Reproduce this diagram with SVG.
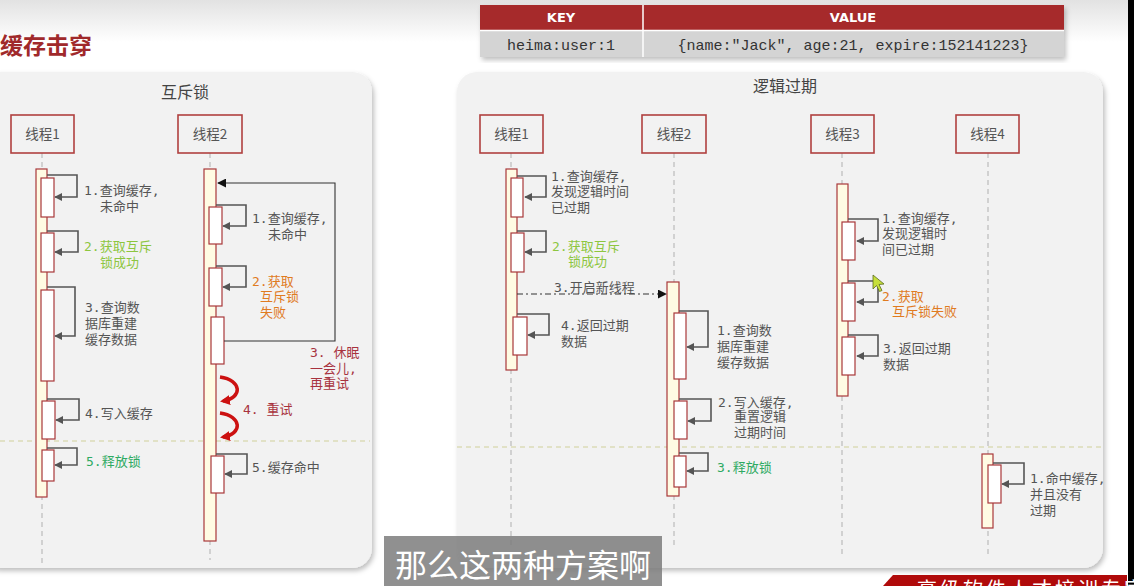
<svg xmlns="http://www.w3.org/2000/svg" width="1134" height="586" viewBox="0 0 1134 586">
<style>
.lbl{font-family:"DejaVu Sans Mono","Noto Sans CJK SC",monospace;font-size:13px;fill:#555}
.g1{fill:#8dc63f}.g2{fill:#2eaa62}.or{fill:#e07b1f}.dr{fill:#a8323e}
.th{fill:#f2f2f2;stroke:#b0403f;stroke-width:1.6}
.tht{font-family:"Noto Sans CJK SC","Noto Sans",sans-serif;font-size:13.5px;fill:#555;text-anchor:middle}
.life{stroke:#bbb;stroke-width:1.2;stroke-dasharray:5 4;fill:none}
.bar{fill:#fffbe3;stroke:#a8383a;stroke-width:1.2}
.ib{fill:#fff;stroke:#a8383a;stroke-width:1.2}
.self{fill:none;stroke:#555;stroke-width:1.6;marker-end:url(#ah)}
.div{stroke:#cfcf9a;stroke-width:1.2;stroke-dasharray:5 4}
.ptitle{font-family:"Noto Sans CJK SC","Noto Sans",sans-serif;font-size:16px;fill:#444;text-anchor:middle}
.redarc{fill:none;stroke:#cc1111;stroke-width:3.5;marker-end:url(#ahr)}
</style>
<defs>
<linearGradient id="topg" x1="0" y1="0" x2="0" y2="1">
<stop offset="0" stop-color="#e2e2e2"/><stop offset="1" stop-color="#ffffff"/>
</linearGradient>
<filter id="sh" x="-5%" y="-5%" width="110%" height="115%">
<feDropShadow dx="2" dy="3" stdDeviation="2.5" flood-color="#000" flood-opacity="0.25"/>
</filter>
<marker id="ah" viewBox="0 0 10 10" refX="9" refY="5" markerWidth="8" markerHeight="8" markerUnits="userSpaceOnUse" orient="auto">
<path d="M0,0 L10,5 L0,10 z" fill="#555"/>
</marker>
<marker id="ahb" viewBox="0 0 10 10" refX="9" refY="5" markerWidth="9" markerHeight="9" markerUnits="userSpaceOnUse" orient="auto">
<path d="M0,0 L10,5 L0,10 z" fill="#111"/>
</marker>
<marker id="ahr" viewBox="0 0 10 10" refX="7" refY="5" markerWidth="10" markerHeight="10" markerUnits="userSpaceOnUse" orient="auto">
<path d="M0,0 L10,5 L0,10 z" fill="#cc1111"/>
</marker>
</defs>

<rect x="0" y="0" width="1134" height="586" fill="#fff"/>
<rect x="0" y="0" width="1134" height="42" fill="url(#topg)"/>
<rect x="1128" y="0" width="6" height="586" fill="#000"/>

<text x="0" y="54" font-family="Noto Sans CJK SC,sans-serif" font-size="23" font-weight="bold" fill="#a0292b">缓存击穿</text>

<!-- table -->
<g id="table">
<rect x="480" y="5" width="584" height="52" fill="#d4d4d4" filter="url(#sh)"/>
<rect x="480" y="5" width="584" height="25" fill="#a62a2b"/>
<line x1="480" y1="30.5" x2="1064" y2="30.5" stroke="#fff" stroke-width="1.5"/>
<line x1="643" y1="5" x2="643" y2="57" stroke="#fff" stroke-width="1.5"/>
<text x="561" y="22" font-family="DejaVu Sans,sans-serif" font-size="13" font-weight="bold" fill="#fff" text-anchor="middle">KEY</text>
<text x="853" y="22" font-family="DejaVu Sans,sans-serif" font-size="13" font-weight="bold" fill="#fff" text-anchor="middle">VALUE</text>
<text x="561" y="50" font-family="Liberation Mono,monospace" font-size="15" fill="#333" text-anchor="middle">heima:user:1</text>
<text x="853" y="50" font-family="Liberation Mono,monospace" font-size="15" fill="#333" text-anchor="middle">{name:"Jack", age:21, expire:152141223}</text>
</g>

<!-- panels -->
<g id="panel-mutex">
<rect x="-20" y="72" width="392" height="496" rx="20" fill="#f2f2f2" filter="url(#sh)"/>
<text class="ptitle" x="185" y="98">互斥锁</text>
</g>
<g id="panel-logic">
<rect x="457" y="72" width="646" height="496" rx="20" fill="#f2f2f2" filter="url(#sh)"/>
<text class="ptitle" x="785" y="92">逻辑过期</text>
</g>

<!-- lifelines and dividers -->
<g id="lifelines">
<line class="life" x1="42" y1="153" x2="42" y2="565"/>
<line class="life" x1="210" y1="153" x2="210" y2="560"/>
<line class="life" x1="511" y1="153" x2="511" y2="548"/>
<line class="life" x1="674" y1="153" x2="674" y2="548"/>
<line class="life" x1="842" y1="153" x2="842" y2="556"/>
<line class="life" x1="988" y1="153" x2="988" y2="556"/>
<line class="div" x1="0" y1="441" x2="370" y2="441"/>
<line class="div" x1="457" y1="447" x2="1103" y2="447"/>
</g>

<!-- Left thread 1 -->
<g id="L-thread1">
<rect class="th" x="11" y="115" width="63" height="38"/>
<text class="tht" x="42.5" y="139">线程1</text>
<rect class="bar" x="36" y="169" width="11" height="328"/>
<rect class="ib" x="41" y="178" width="13" height="39"/>
<rect class="ib" x="41" y="233" width="13" height="39"/>
<rect class="ib" x="41" y="290" width="13" height="91"/>
<rect class="ib" x="42" y="401" width="13" height="38"/>
<rect class="ib" x="42" y="450" width="12" height="31"/>
<text class="lbl" x="84" y="195">1.查询缓存,</text>
<text class="lbl" x="100" y="211">未命中</text>
<text class="lbl g1" x="84" y="251">2.获取互斥</text>
<text class="lbl g1" x="100" y="267">锁成功</text>
<text class="lbl" x="85" y="312">3.查询数</text>
<text class="lbl" x="85" y="328">据库重建</text>
<text class="lbl" x="85" y="344">缓存数据</text>
<text class="lbl" x="85" y="418">4.写入缓存</text>
<text class="lbl g2" x="86" y="466">5.释放锁</text>
</g>

<!-- Left thread 2 -->
<g id="L-thread2">
<rect class="th" x="178" y="115" width="64" height="38"/>
<text class="tht" x="210" y="139">线程2</text>
<rect class="bar" x="204" y="169" width="12" height="372"/>
<rect class="ib" x="209" y="207" width="13" height="37"/>
<rect class="ib" x="209" y="268" width="13" height="38"/>
<rect class="ib" x="211" y="317" width="13" height="47"/>
<rect class="ib" x="211" y="456" width="13" height="37"/>
<text class="lbl" x="252" y="223">1.查询缓存,</text>
<text class="lbl" x="268" y="239">未命中</text>
<text class="lbl or" x="252" y="286">2.获取</text>
<text class="lbl or" x="260" y="301">互斥锁</text>
<text class="lbl or" x="260" y="317">失败</text>
<text class="lbl dr" x="310" y="357">3. 休眠</text>
<text class="lbl dr" x="310" y="373">一会儿,</text>
<text class="lbl dr" x="310" y="388">再重试</text>
<text class="lbl dr" x="243" y="414">4. 重试</text>
<text class="lbl" x="252" y="472">5.缓存命中</text>
</g>

<!-- Right thread 1 -->
<g id="R-thread1">
<rect class="th" x="480" y="115" width="63" height="38"/>
<text class="tht" x="511.5" y="139">线程1</text>
<rect class="bar" x="506" y="169" width="11" height="201"/>
<rect class="ib" x="511" y="178" width="12" height="39"/>
<rect class="ib" x="511" y="233" width="13" height="39"/>
<rect class="ib" x="513" y="317" width="14" height="38"/>
<text class="lbl" x="551" y="181">1.查询缓存,</text>
<text class="lbl" x="551" y="196">发现逻辑时间</text>
<text class="lbl" x="551" y="212">已过期</text>
<text class="lbl g1" x="552" y="251">2.获取互斥</text>
<text class="lbl g1" x="568" y="266">锁成功</text>
<text class="lbl" x="554" y="292">3.开启新线程</text>
<text class="lbl" x="561" y="330">4.返回过期</text>
<text class="lbl" x="561" y="346">数据</text>
</g>

<!-- Right thread 2 -->
<g id="R-thread2">
<rect class="th" x="642" y="115" width="64" height="38"/>
<text class="tht" x="674" y="139">线程2</text>
<rect class="bar" x="667" y="282" width="12" height="214"/>
<rect class="ib" x="674" y="313" width="12" height="66"/>
<rect class="ib" x="674" y="401" width="13" height="38"/>
<rect class="ib" x="674" y="456" width="12" height="31"/>
<text class="lbl" x="717" y="335">1.查询数</text>
<text class="lbl" x="717" y="351">据库重建</text>
<text class="lbl" x="717" y="367">缓存数据</text>
<text class="lbl" x="718" y="407">2.写入缓存,</text>
<text class="lbl" x="734" y="421">重置逻辑</text>
<text class="lbl" x="734" y="437">过期时间</text>
<text class="lbl g2" x="717" y="472">3.释放锁</text>
</g>

<!-- Right thread 3 -->
<g id="R-thread3">
<rect class="th" x="811" y="115" width="63" height="38"/>
<text class="tht" x="842.5" y="139">线程3</text>
<rect class="bar" x="837" y="184" width="11" height="212"/>
<rect class="ib" x="842" y="222" width="13" height="38"/>
<rect class="ib" x="842" y="283" width="13" height="38"/>
<rect class="ib" x="842" y="337" width="13" height="38"/>
<text class="lbl" x="882" y="223">1.查询缓存,</text>
<text class="lbl" x="882" y="238">发现逻辑时</text>
<text class="lbl" x="882" y="254">间已过期</text>
<text class="lbl or" x="882" y="301">2.获取</text>
<text class="lbl or" x="892" y="316">互斥锁失败</text>
<text class="lbl" x="883" y="353">3.返回过期</text>
<text class="lbl" x="883" y="369">数据</text>
</g>

<!-- Right thread 4 -->
<g id="R-thread4">
<rect class="th" x="956" y="115" width="63" height="38"/>
<text class="tht" x="987.5" y="139">线程4</text>
<rect class="bar" x="982" y="454" width="11" height="74"/>
<rect class="ib" x="988" y="465" width="13" height="38"/>
<text class="lbl" x="1030" y="483">1.命中缓存,</text>
<text class="lbl" x="1030" y="499">并且没有</text>
<text class="lbl" x="1030" y="515">过期</text>
</g>

<!-- connectors -->
<g id="connectors">
<path class="self" d="M47,175 H77 V197 H55"/>
<path class="self" d="M47,231 H78 V252 H55"/>
<path class="self" d="M47,287 H75 V336 H55"/>
<path class="self" d="M47,399 H79 V420 H56"/>
<path class="self" d="M47,448 H77 V465 H55"/>
<path class="self" d="M216,205 H246 V226 H223"/>
<path class="self" d="M216,266 H246 V287 H223"/>
<path class="self" d="M216,454 H247 V474 H225"/>
<path d="M224,341 H335 V183 H218" fill="none" stroke="#333" stroke-width="1.1" marker-end="url(#ahb)"/>
<path class="redarc" d="M220,377 C242,380 243,398 223,401"/>
<path class="redarc" d="M220,413 C242,416 243,434 223,437"/>

<path class="self" d="M517,176 H546 V197 H525"/>
<path class="self" d="M517,231 H546 V252 H525"/>
<path class="self" d="M517,314 H549 V335 H528"/>
<path d="M517,294 H666" fill="none" stroke="#333" stroke-width="1.1" stroke-dasharray="6 3 2 3" marker-end="url(#ahb)"/>
<path class="self" d="M679,311 H708 V347 H687"/>
<path class="self" d="M679,399 H711 V421 H688"/>
<path class="self" d="M679,453 H708 V471 H687"/>
<path class="self" d="M848,219 H878 V241 H857"/>
<path class="self" d="M848,281 H878 V302 H857"/>
<path class="self" d="M848,335 H878 V356 H857"/>
<path class="self" d="M993,463 H1024 V484 H1002"/>
</g>

<!-- cursor -->
<path d="M873,275 L873,289 L876.5,285.5 L879.5,291.5 L882,290.5 L879,284.5 L884,284 Z" fill="#c6df3a" stroke="#5a6b20" stroke-width="0.8"/>

<!-- subtitle -->
<g id="subtitle">
<rect x="384" y="536" width="278" height="50" fill="#7d7d7d" fill-opacity="0.85"/>
<text x="523" y="577" font-family="Noto Sans CJK SC,sans-serif" font-size="32" fill="#fff" text-anchor="middle">那么这两种方案啊</text>
</g>

<!-- banner -->
<g id="banner">
<polygon points="893,575 1127,575 1127,586 883,586" fill="#b00a0a"/>
<text x="917" y="597" font-family="Noto Sans CJK SC,sans-serif" font-size="20" letter-spacing="3" fill="#fff">高级软件人才培训专家</text>
</g>
</svg>
